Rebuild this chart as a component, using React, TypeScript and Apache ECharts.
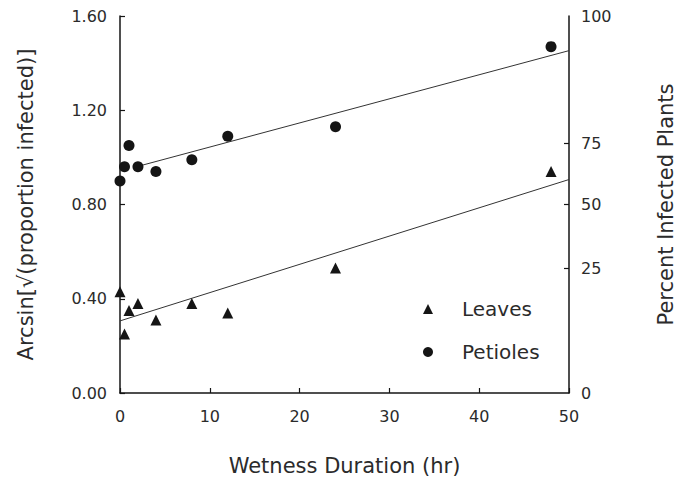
import React, { useEffect, useRef } from "react";
import * as echarts from "echarts";

const hours = [0, 0.5, 1, 2, 4, 8, 12, 24, 48];
const leaves = [0.43, 0.25, 0.35, 0.38, 0.31, 0.38, 0.34, 0.53, 0.94];
const petioles = [0.9, 0.96, 1.05, 0.96, 0.94, 0.99, 1.09, 1.13, 1.47];

const leavesFitX = [0, 50];
const leavesFitY = [0.306, 0.906];
const petiolesFitX = [2, 50];
const petiolesFitY = [0.962, 1.453];

const leftTicks = [0, 0.4, 0.8, 1.2, 1.6];
const rightTickValues = [0, 0.53, 0.8, 1.06, 1.6];
const rightTickLabels = ["0", "25", "50", "75", "100"];

const FONT = "DejaVu Sans";
const TXT = "#2b2b2b";
const INK = "#151515";

export default function App() {
  const ref = useRef<HTMLDivElement>(null);
  useEffect(() => {
    if (!ref.current) return;
    const chart = echarts.init(ref.current, undefined, { renderer: "svg" });
    const axisLine = { show: true, lineStyle: { color: INK, width: 1.5 } };
    chart.setOption({
      animation: false,
      backgroundColor: "#fff",
      grid: { left: 120, right: 119, top: 16, bottom: 85 },
      xAxis: {
        type: "value",
        min: 0,
        max: 50,
        interval: 10,
        name: "Wetness Duration (hr)",
        nameLocation: "middle",
        nameGap: 62,
        nameTextStyle: { fontFamily: FONT, fontSize: 21, color: TXT },
        axisLine,
        axisTick: { inside: true, length: 5, lineStyle: { color: INK, width: 1.2 } },
        axisLabel: { fontFamily: FONT, fontSize: 16, color: TXT, margin: 15 },
        splitLine: { show: false },
      },
      yAxis: [
        {
          type: "value",
          min: 0,
          max: 1.6,
          interval: 0.4,
          name: "Arcsin[√(proportion infected)]",
          nameLocation: "middle",
          nameGap: 84,
          nameTextStyle: { fontFamily: FONT, fontSize: 21, color: TXT },
          axisLine,
          axisTick: { inside: true, length: 5, lineStyle: { color: INK, width: 1.2 } },
          axisLabel: {
            fontFamily: FONT,
            fontSize: 16,
            color: TXT,
            margin: 13,
            customValues: leftTicks,
            formatter: (v: number) => v.toFixed(2),
          },
          splitLine: { show: false },
        },
        {
          type: "value",
          min: 0,
          max: 1.6,
          position: "right",
          name: "Percent Infected Plants",
          nameLocation: "middle",
          nameGap: 86,
          nameTextStyle: { fontFamily: FONT, fontSize: 21, color: TXT },
          axisLine,
          axisTick: {
            inside: true,
            length: 5,
            customValues: rightTickValues.slice(1, 4),
            lineStyle: { color: INK, width: 1.2 },
          },
          axisLabel: {
            fontFamily: FONT,
            fontSize: 16,
            color: TXT,
            margin: 12,
            customValues: rightTickValues,
            formatter: (v: number) => {
              const i = rightTickValues.indexOf(v);
              return i >= 0 ? rightTickLabels[i] : "";
            },
          },
          splitLine: { show: false },
        },
      ],
      legend: {
        orient: "vertical",
        left: 418,
        top: 294,
        itemWidth: 10,
        itemHeight: 10,
        itemGap: 23,
        data: ["Leaves", "Petioles"],
        itemStyle: { opacity: 1 },
        textStyle: { fontFamily: FONT, fontSize: 20, color: TXT, padding: [0, 0, 0, 24] },
      },
      series: [
        {
          name: "Leaves",
          type: "scatter",
          symbol: "triangle",
          symbolSize: 11,
          itemStyle: { color: INK, opacity: 1 },
          data: hours.map((h, i) => [h, leaves[i]]),
          z: 3,
        },
        {
          name: "Petioles",
          type: "scatter",
          symbol: "circle",
          symbolSize: 11,
          itemStyle: { color: INK, opacity: 1 },
          data: hours.map((h, i) => [h, petioles[i]]),
          z: 3,
        },
        {
          name: "Leaves fit",
          type: "line",
          showSymbol: false,
          symbol: "none",
          lineStyle: { color: "#333", width: 1 },
          data: leavesFitX.map((x, i) => [x, leavesFitY[i]]),
          z: 2,
        },
        {
          name: "Petioles fit",
          type: "line",
          showSymbol: false,
          symbol: "none",
          lineStyle: { color: "#333", width: 1 },
          data: petiolesFitX.map((x, i) => [x, petiolesFitY[i]]),
          z: 2,
        },
      ],
    });
    return () => chart.dispose();
  }, []);
  return (
    <div
      ref={ref}
      style={{ position: "fixed", left: 0, top: 0, width: 688, height: 481 }}
    />
  );
}
